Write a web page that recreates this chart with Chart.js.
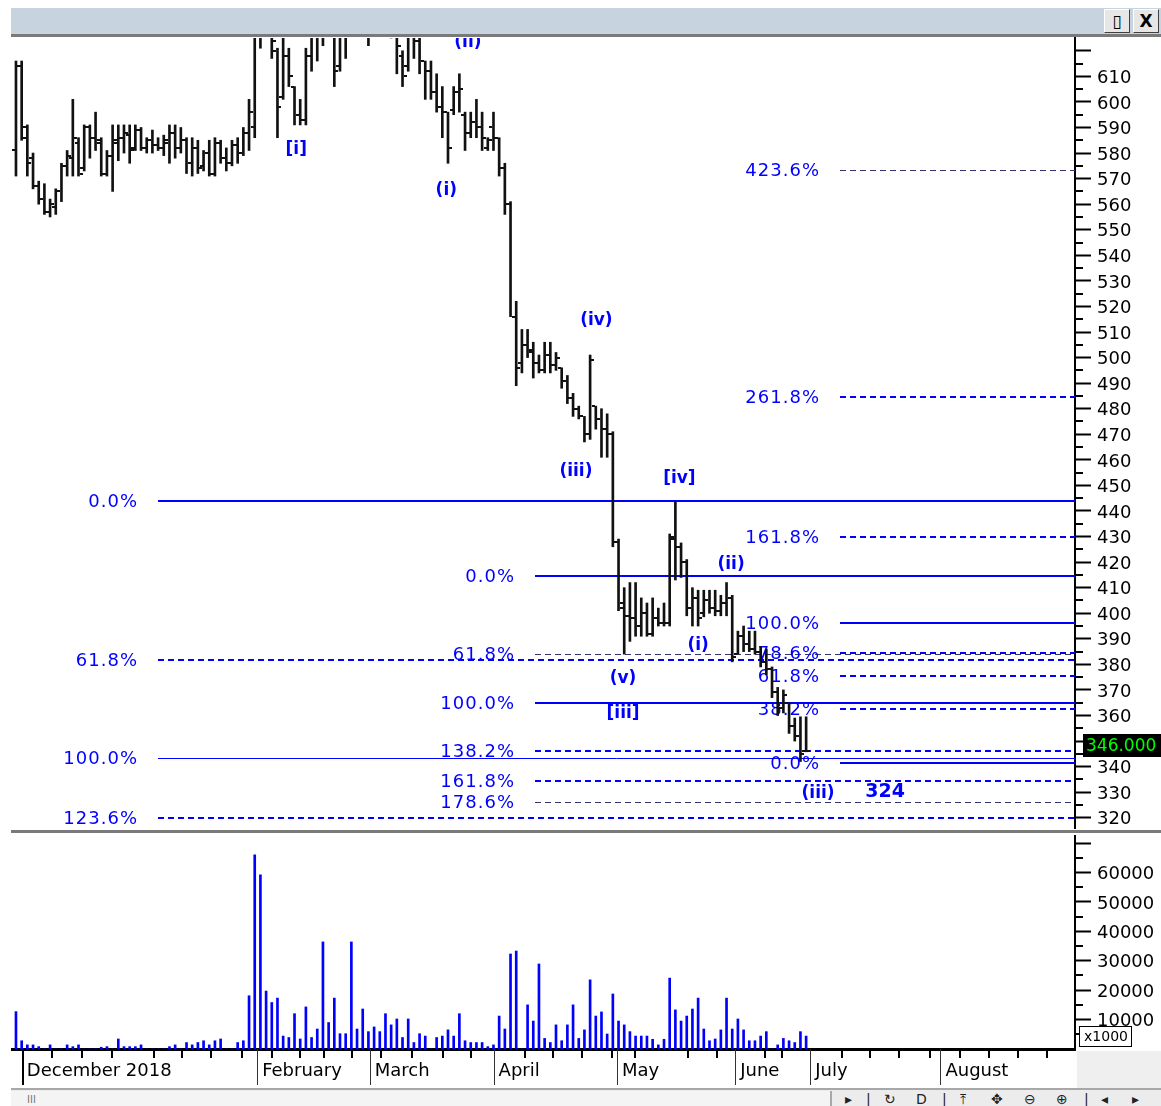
<!DOCTYPE html>
<html>
<head>
<meta charset="utf-8">
<title>Elliott wave chart</title>
<script src="https://cdn.jsdelivr.net/npm/chart.js@4.4.1/dist/chart.umd.min.js"></script>
<style>
  html, body { margin: 0; padding: 0; background: #fff; }
  body { position: relative; width: 1161px; height: 1106px; overflow: hidden; font-family: "DejaVu Sans", sans-serif; }
  .abs { position: absolute; }
  #titlebar { left: 11px; top: 8px; width: 1150px; height: 26px; background: #c8d3e0; }
  #titleline { left: 11px; top: 34px; width: 1150px; height: 3px; background: #7a7a7a; }
  .winbtn { top: 9px; width: 24px; height: 22px; background: #e6e6e6; border: 1px solid #fff;
            border-right-color: #404040; border-bottom-color: #404040; font: bold 17px "DejaVu Sans";
            line-height: 22px; text-align: center; color: #000; }
  #paneline { left: 11px; top: 830px; width: 1150px; height: 3px; background: #7a7a7a; }
  #axiscorner { left: 1077px; top: 1051px; width: 84px; height: 38px; background: #efefef; }
  #scrollrow { left: 11px; top: 1088px; width: 1150px; height: 18px; background: #ececec; border-top: 2px solid #a8a8a8; }
  #track { left: 11px; top: 1091px; width: 819px; height: 15px; background: #f4f4f4; border-right: 2px solid #a8a8a8; }
  .icon { top: 1091px; font: 14px "DejaVu Sans"; color: #222; }
  canvas { position: absolute; left: 0; }
  #priceChart { top: 0; }
  #volumeChart { top: 833px; }
</style>
</head>
<body>
<div id="titlebar" class="abs"></div>
<div id="titleline" class="abs"></div>
<div class="abs winbtn" style="left:1104px">&#9647;</div>
<div class="abs winbtn" style="left:1133px">X</div>
<div id="paneline" class="abs"></div>
<div id="axiscorner" class="abs"></div>
<div id="scrollrow" class="abs"></div>
<div id="track" class="abs"></div>
<div class="abs icon" style="left:27px;font-size:10px;color:#777;top:1094px">III</div>
<div class="abs icon" style="left:845px">&#9656;</div>
<div class="abs icon" style="left:866px">|</div>
<div class="abs icon" style="left:884px">&#8635;</div>
<div class="abs icon" style="left:916px">D</div>
<div class="abs icon" style="left:942px">|</div>
<div class="abs icon" style="left:960px">&#10514;</div>
<div class="abs icon" style="left:991px">&#10021;</div>
<div class="abs icon" style="left:1024px">&#8854;</div>
<div class="abs icon" style="left:1056px">&#8853;</div>
<div class="abs icon" style="left:1084px">|</div>
<div class="abs icon" style="left:1101px">&#9666;</div>
<div class="abs icon" style="left:1132px">&#9656;</div>

<canvas id="priceChart" width="1161" height="830"></canvas>
<canvas id="volumeChart" width="1161" height="257"></canvas>

<script>
// daily bars, index 0 = first bar of December 2018
const opens = [
  581, 614, 590, 578, 567, 562, 557, 559, 565, 575,
  578, 584, 574, 590, 586, 584, 572, 579, 585, 586,
  587, 582, 589, 582, 585, 583, 582, 584, 588, 582,
  585, 576, 582, 575, 580, 572, 584, 578, 576, 583,
  580, 588, 590, 626, 632, 638, 620, 602, 618, 606,
  595, 593, 618, 626, 628, 632, 638, 614, 626, 634,
  642, 645, 636, 630, 638, 640, 632, 630, 618, 614,
  628, 624, 616, 612, 604, 598, 596, 597, 604, 595,
  588, 592, 590, 582, 590, 586, 574, 560, 516, 498,
  505, 502, 498, 495, 501, 497, 496, 491, 484, 480,
  477, 470, 481, 476, 472, 470, 428, 402, 399, 398,
  395, 400, 392, 398, 396, 396, 430, 426, 420, 402,
  406, 400, 405, 402, 401, 404, 406, 384, 391, 388,
  386, 385, 381, 378, 369, 363, 365, 356, 352, 346
];
const highs = [
  616, 616, 591, 580, 569, 568, 562, 566, 576, 581,
  601, 586, 591, 591, 596, 586, 581, 591, 591, 591,
  591, 591, 590, 586, 589, 586, 587, 591, 591, 590,
  586, 586, 585, 581, 585, 586, 585, 582, 585, 586,
  590, 601, 630, 634, 645, 640, 621, 630, 621, 606,
  601, 621, 630, 632, 636, 646, 640, 630, 636, 646,
  652, 650, 640, 642, 648, 645, 640, 634, 620, 630,
  632, 628, 616, 616, 611, 606, 596, 606, 611, 596,
  596, 601, 596, 586, 596, 586, 576, 561, 522, 511,
  511, 506, 501, 506, 506, 502, 496, 493, 486, 481,
  477, 501, 481, 480, 478, 471, 429, 410, 412, 412,
  406, 404, 406, 402, 404, 431, 443.5, 427.5, 421, 410,
  409, 409, 409, 409, 407, 412, 407, 393, 395, 393,
  393, 387, 386, 379, 371, 370, 365, 359, 359.5, 359.5
];
const lows = [
  571, 585, 571, 566, 560, 556, 555, 556, 561, 571,
  571, 571, 573, 578, 581, 571, 571, 565, 577, 580,
  576, 581, 581, 580, 580, 581, 579, 576, 578, 580,
  572, 571, 572, 573, 571, 571, 576, 573, 575, 576,
  579, 581, 586, 621, 627, 617, 586, 601, 606, 591,
  591, 591, 612, 616, 622, 628, 606, 612, 617, 628,
  634, 632, 622, 627, 630, 628, 625, 611, 606, 612,
  617, 611, 601, 601, 596, 586, 576, 595, 596, 581,
  586, 586, 581, 581, 581, 571, 556, 516, 489, 494,
  500, 492, 494, 494, 494, 495, 488, 482, 477, 476,
  467, 468, 472, 461, 461, 426, 401, 384, 389, 391,
  391, 391, 391, 395, 395, 395, 413, 414, 399, 395,
  395, 398.6, 400, 399, 399, 399, 381, 384, 385, 385,
  384, 379, 376, 367, 360, 361, 353, 350, 342, 345.8
];
const closes = [
  614, 586, 576, 567, 562, 557, 560, 565, 575, 579,
  586, 572, 590, 586, 585, 572, 579, 584, 586, 588,
  581, 589, 582, 585, 583, 582, 585, 588, 582, 585,
  576, 582, 574, 580, 572, 584, 578, 576, 583, 580,
  588, 596, 626, 630, 640, 624, 598, 618, 610, 595,
  593, 618, 626, 628, 632, 640, 612, 626, 632, 642,
  646, 636, 630, 638, 640, 632, 630, 622, 610, 628,
  624, 616, 612, 604, 598, 596, 582, 604, 605, 588,
  592, 590, 586, 585, 586, 574, 560, 516, 496, 505,
  503, 498, 495, 501, 497, 500, 491, 484, 480, 477,
  470, 499, 476, 472, 470, 428, 404, 399, 398, 395,
  400, 392, 398, 396, 396, 429, 426, 420, 402, 406,
  398, 405, 402, 401, 404, 406, 383, 391, 388, 386,
  385, 381, 378, 369, 363, 368, 356, 352, 345, 346
];
// volume, in units of 1000 shares (axis shows x1000)
const volumes = [
  12700, 2800, 1400, 1400, 800, 0, 1400, 0, 0, 1400,
  800, 1400, 0, 0, 0, 600, 800, 0, 3400, 800,
  800, 800, 1400, 0, 0, 0, 0, 800, 1400, 0,
  2200, 1400, 2200, 2800, 1400, 2800, 3400, 0, 0, 2200,
  2800, 18100, 66000, 59200, 19700, 15800, 17300, 4400, 3900, 12000,
  3400, 14300, 3900, 6800, 36400, 9000, 17300, 5200, 5200, 36400,
  6800, 13600, 5900, 7500, 5900, 12000, 8200, 10200, 3900, 10200,
  2200, 5200, 4400, 0, 3900, 4400, 6500, 4400, 12000, 2800,
  2200, 2200, 2200, 800, 1400, 11200, 6800, 32300, 33300, 0,
  15000, 9500, 28900, 3600, 2200, 8200, 2800, 8200, 15000, 3600,
  6500, 23500, 11200, 12600, 5100, 18700, 9500, 8200, 5900, 4400,
  4400, 4400, 3300, 1400, 3300, 24100, 13300, 9500, 11200, 13600,
  17300, 6800, 2800, 3400, 6500, 17300, 6800, 10200, 6500, 2800,
  2800, 4400, 5900, 0, 1400, 3600, 2800, 2200, 5900, 4400
];

// time axis (bar index units)
const monthNames = ['December 2018', 'February', 'March', 'April', 'May', 'June', 'July', 'August'];
const monthPos = [1.2, 42.6, 62.4, 84.2, 105.9, 126.7, 139.9, 162.8];
const weekPos = [6.3, 11.6, 16.9, 24.2, 29.2, 34.3, 39.7, 45.1, 50, 54.1, 59.1, 64.3, 69.7, 75.1, 80,
  89.6, 94.5, 99.6, 104.9, 108.9, 118.2, 123.4, 131.7, 134.8, 145.3, 150.3, 155.4, 160.8, 166,
  171.2, 176.3, 181.3];
const priceTicks = [320, 330, 340, 350, 360, 370, 380, 390, 400, 410, 420, 430, 440, 450, 460, 470,
  480, 490, 500, 510, 520, 530, 540, 550, 560, 570, 580, 590, 600, 610, 620];
const volumeTicks = [10000, 20000, 30000, 40000, 50000, 60000, 70000];

// Fibonacci sets: level label, price, first bar of the line
const fibLeftPct = ['0.0%', '61.8%', '100.0%', '123.6%'];
const fibLeftVal = [443.9, 381.9, 343.5, 319.8];
const fibLeftFrom = 25;
const fibMidPct = ['0.0%', '61.8%', '100.0%', '138.2%', '161.8%', '178.6%'];
const fibMidVal = [414.6, 384.0, 365.0, 346.1, 334.3, 326.0];
const fibMidFrom = 91.3;
const fibRightPct = ['0.0%', '38.2%', '61.8%', '78.6%', '100.0%', '161.8%', '261.8%', '423.6%'];
const fibRightVal = [341.5, 362.4, 375.3, 384.5, 396.2, 430.0, 484.7, 573.2];
const fibRightFrom = 145;

// wave counts
const waveText = ['[i]', '(ii)', '(i)', '(iv)', '(iii)', '[iv]', '(ii)', '(i)', '(v)', '[iii]', '(iii)', '324'];
const waveIdx = [49.3, 79.5, 75.7, 102.1, 98.5, 116.7, 125.8, 120.0, 106.8, 106.8, 141.1, 152.9];
const wavePrice = [581.5, 623.3, 565.5, 514.6, 455.3, 452.5, 418.9, 387.3, 374.4, 360.7, 329.4, 330.2];

const lastPrice = 346;

// ---- styling ----
const X_MIN = -0.7, X_MAX = 186.3;
const BLUE = '#0000ff';
const AXIS_FONT = { family: 'DejaVu Sans', size: 18 };
const fibLeftStyle = ['solid', 'dash', 'thin', 'dash'];
const fibMidStyle = ['solid', 'dashThin', 'solid', 'dash', 'dash', 'dashThin'];
const fibRightStyle = ['solid', 'dash', 'dash', 'dash', 'solid', 'dash', 'dash', 'dashThin'];

const fibSets = [
  { from: fibLeftFrom, pct: fibLeftPct, val: fibLeftVal, style: fibLeftStyle },
  { from: fibMidFrom, pct: fibMidPct, val: fibMidVal, style: fibMidStyle },
  { from: fibRightFrom, pct: fibRightPct, val: fibRightVal, style: fibRightStyle }
];

function clipArea(ctx, a) {
  ctx.beginPath();
  ctx.rect(a.left, a.top, a.right - a.left, a.bottom - a.top);
  ctx.clip();
}

function drawFibSet(ctx, xs, ys, a, set) {
  const x0 = Math.round(xs.getPixelForValue(set.from));
  set.val.forEach((v, k) => {
    const st = set.style[k];
    const yp = Math.round(ys.getPixelForValue(v));
    const thin = st === 'thin' || st === 'dashThin';
    ctx.beginPath();
    ctx.lineWidth = thin ? 1 : 2;
    ctx.strokeStyle = st === 'dashThin' ? '#34346e' : BLUE;
    ctx.setLineDash(st.indexOf('dash') === 0 ? [6, 4] : []);
    const off = thin ? 0.5 : 0;
    ctx.moveTo(x0, yp + off);
    ctx.lineTo(a.right, yp + off);
    ctx.stroke();
    ctx.setLineDash([]);
    ctx.fillStyle = BLUE;
    ctx.font = '18px "DejaVu Sans"';
    ctx.letterSpacing = '1px';
    ctx.textAlign = 'right';
    ctx.textBaseline = 'middle';
    ctx.fillText(set.pct[k], x0 - 20, yp + 1);
    ctx.letterSpacing = '0px';
  });
}

const priceOverlay = {
  id: 'priceOverlay',
  beforeDatasetsDraw(chart) {
    const { ctx, chartArea: a, scales: { x, y } } = chart;
    ctx.save();
    clipArea(ctx, a);
    fibSets.forEach(set => drawFibSet(ctx, x, y, a, set));
    ctx.restore();
  },
  afterDatasetsDraw(chart) {
    const { ctx, chartArea: a, scales: { x, y } } = chart;
    const meta = chart.getDatasetMeta(0);
    ctx.save();
    clipArea(ctx, a);
    // open (left) and close (right) ticks
    ctx.fillStyle = '#111';
    meta.data.forEach((bar, i) => {
      const xc = Math.round(bar.x);
      const yo = Math.round(y.getPixelForValue(opens[i]));
      const yc = Math.round(y.getPixelForValue(closes[i]));
      ctx.fillRect(xc - 4, yo - 1, 3, 2);
      ctx.fillRect(xc + 1, yc - 1, 3, 2);
    });
    // wave labels
    ctx.fillStyle = BLUE;
    ctx.textAlign = 'center';
    ctx.textBaseline = 'middle';
    waveText.forEach((t, k) => {
      ctx.font = /^\d+$/.test(t) ? 'bold 19px "DejaVu Sans"' : 'bold 17px "DejaVu Sans"';
      ctx.fillText(t, x.getPixelForValue(waveIdx[k]), y.getPixelForValue(wavePrice[k]));
    });
    ctx.restore();
  },
  afterDraw(chart) {
    const { ctx, chartArea: a, scales: { y } } = chart;
    ctx.save();
    // minor ticks on the price axis
    ctx.fillStyle = '#000';
    for (let v = 325; v < y.max; v += 10) {
      const p = Math.round(y.getPixelForValue(v));
      ctx.fillRect(a.right, p - 1, 8, 2);
    }
    // last price box
    const yp = y.getPixelForValue(lastPrice);
    ctx.fillStyle = '#000';
    ctx.fillRect(a.right + 8, Math.round(yp - 17), 86, 23);
    ctx.fillStyle = '#00ff00';
    ctx.font = '17px "DejaVu Sans"';
    ctx.textAlign = 'left';
    ctx.textBaseline = 'middle';
    ctx.fillText(lastPrice.toFixed(3), a.right + 11, yp - 5);
    ctx.restore();
  }
};

const volumeOverlay = {
  id: 'volumeOverlay',
  afterDraw(chart) {
    const { ctx, chartArea: a, scales: { x, y } } = chart;
    ctx.save();
    ctx.fillStyle = '#000';
    weekPos.forEach(v => {
      const p = Math.round(x.getPixelForValue(v));
      ctx.fillRect(p - 1, a.bottom, 2, 9);
    });
    monthPos.forEach((v, k) => {
      const p = Math.round(x.getPixelForValue(v));
      ctx.fillStyle = k === 0 ? '#000' : '#333';
      ctx.fillRect(p - 1, a.bottom, k === 0 ? 2 : 1, 36);
    });
    // minor ticks on the volume axis
    ctx.fillStyle = '#000';
    for (let v = 5000; v < y.max; v += 10000) {
      const p = Math.round(y.getPixelForValue(v));
      ctx.fillRect(a.right, p - 1, 8, 2);
    }
    // x1000 unit box
    const bx = a.right + 4, by = a.bottom - 23;
    ctx.fillStyle = '#fff';
    ctx.fillRect(bx, by, 53, 21);
    ctx.strokeStyle = '#000';
    ctx.lineWidth = 1;
    ctx.strokeRect(bx + 0.5, by + 0.5, 52, 20);
    ctx.fillStyle = '#000';
    ctx.font = '14px "DejaVu Sans"';
    ctx.textAlign = 'center';
    ctx.textBaseline = 'middle';
    ctx.fillText('x1000', bx + 27, by + 11);
    ctx.restore();
  }
};

function rightAxis(ticksArr, min, max, hideFn) {
  return {
    position: 'right',
    min: min,
    max: max,
    afterBuildTicks: s => { s.ticks = ticksArr.map(v => ({ value: v })); },
    afterFit: s => { s.width = 86; s.paddingTop = 0; s.paddingBottom = 0; },
    grid: { drawOnChartArea: false, drawTicks: true, tickLength: 16, tickWidth: 2, tickColor: '#000' },
    border: { display: true, color: '#000', width: 2 },
    ticks: {
      color: '#000', font: AXIS_FONT, padding: 6, labelOffset: 2,
      callback: v => hideFn(v) ? '' : String(v)
    }
  };
}

new Chart(document.getElementById('priceChart'), {
  type: 'bar',
  data: {
    datasets: [{
      data: highs.map((h, i) => ({ x: i, y: [lows[i], h] })),
      backgroundColor: '#111',
      borderWidth: 0,
      barThickness: 2
    }]
  },
  options: {
    responsive: false,
    animation: false,
    layout: { padding: { left: 12, top: 38, right: 0, bottom: 2 } },
    plugins: { legend: { display: false }, tooltip: { enabled: false } },
    scales: {
      x: { type: 'linear', min: X_MIN, max: X_MAX, offset: false, display: false, grid: { offset: false } },
      y: rightAxis(priceTicks, 316, 625, v => v >= 620)
    }
  },
  plugins: [priceOverlay]
});

new Chart(document.getElementById('volumeChart'), {
  type: 'bar',
  data: {
    datasets: [{
      data: volumes.map((v, i) => ({ x: i, y: v })),
      backgroundColor: BLUE,
      borderWidth: 0,
      barThickness: 2
    }]
  },
  options: {
    responsive: false,
    animation: false,
    layout: { padding: { left: 12, top: 3, right: 0, bottom: 0 } },
    plugins: { legend: { display: false }, tooltip: { enabled: false } },
    scales: {
      x: {
        type: 'linear', min: X_MIN, max: X_MAX, offset: false,
        afterBuildTicks: s => { s.ticks = monthPos.map(v => ({ value: v })); },
        afterFit: s => { s.height = 41; s.paddingLeft = 0; s.paddingRight = 0; },
        grid: { drawOnChartArea: false, drawTicks: false, offset: false },
        border: { display: true, color: '#000', width: 3 },
        ticks: {
          autoSkip: false, maxRotation: 0, minRotation: 0, align: 'start', labelOffset: 4,
          padding: 12, color: '#000', font: AXIS_FONT,
          callback: (v, i) => monthNames[i]
        }
      },
      y: rightAxis(volumeTicks, 0, 72400, v => v >= 70000)
    }
  },
  plugins: [volumeOverlay]
});
</script>
</body>
</html>
